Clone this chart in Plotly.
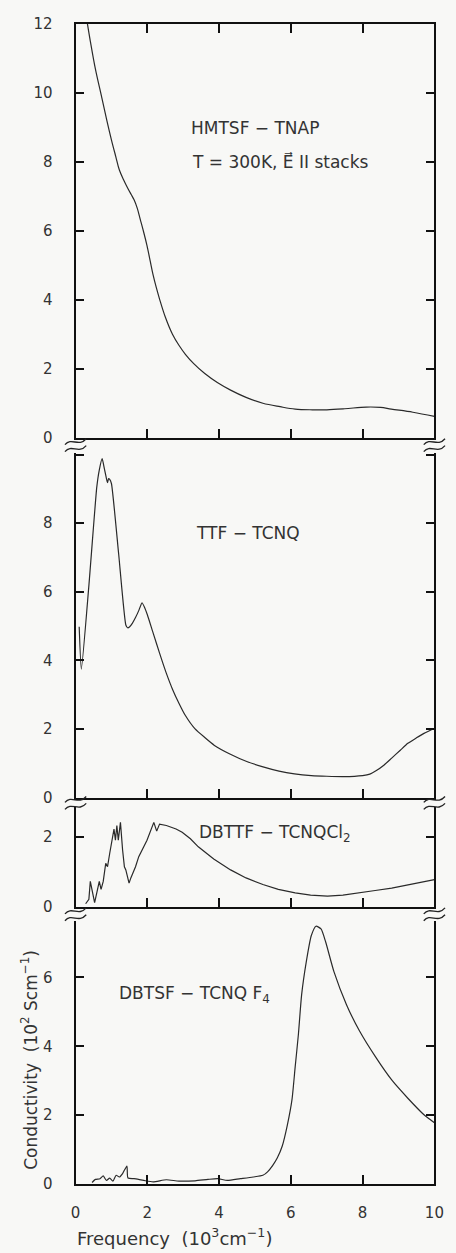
import plotly.graph_objects as go

W, H = 456, 1253

# ---------------- data ----------------
hm_x = [0.33, 0.41, 0.55, 0.73, 0.87, 1.0, 1.12, 1.22, 1.35, 1.45, 1.55, 1.63, 1.72, 1.8, 1.9, 1.99,
        2.08, 2.16, 2.25, 2.34, 2.5, 2.7, 2.88, 3.06, 3.3, 3.6, 3.95, 4.32, 4.75, 5.22, 5.7, 6.12,
        6.6, 7.0, 7.5, 8.1, 8.5, 8.8, 9.4, 10.0]
hm_y = [12.0, 11.5, 10.7, 9.86, 9.2, 8.63, 8.15, 7.76, 7.45, 7.24, 7.05, 6.9, 6.65, 6.34, 5.95, 5.57,
        5.12, 4.72, 4.35, 4.02, 3.5, 3.0, 2.68, 2.42, 2.14, 1.86, 1.6, 1.38, 1.17, 1.0, 0.9, 0.83,
        0.81, 0.81, 0.84, 0.89, 0.88, 0.83, 0.74, 0.62]

ttf_x = [0.10, 0.16, 0.37, 0.59, 0.66, 0.74, 0.80, 0.86, 0.89, 0.92, 0.95, 1.00, 1.20, 1.40, 1.45,
         1.50, 1.58, 1.67, 1.76, 1.85, 1.92, 2.00, 2.16, 2.34, 2.52, 2.70, 2.88, 3.06, 3.33, 3.60,
         3.87, 4.30, 4.77, 5.20, 5.67, 6.10, 6.57, 7.00, 7.47, 8.00, 8.20, 8.36, 8.60, 8.81, 9.05,
         9.26, 9.50, 9.71, 10.0]
ttf_y = [4.98, 3.74, 6.18, 9.05, 9.55, 9.88, 9.60, 9.30, 9.18, 9.30, 9.28, 9.15, 7.10, 5.03, 4.95,
         4.97, 5.08, 5.25, 5.45, 5.68, 5.55, 5.33, 4.80, 4.21, 3.65, 3.16, 2.75, 2.39, 2.00, 1.75,
         1.52, 1.27, 1.05, 0.90, 0.77, 0.69, 0.64, 0.62, 0.61, 0.64, 0.68, 0.77, 0.95, 1.15, 1.38,
         1.58, 1.74, 1.87, 2.02]

db_x = [0.28, 0.37, 0.41, 0.48, 0.53, 0.59, 0.66, 0.71, 0.77, 0.84, 0.89, 0.95, 1.02, 1.07, 1.11,
        1.15, 1.19, 1.25, 1.31, 1.36, 1.40, 1.45, 1.49, 1.54, 1.67, 1.76, 1.99, 2.18, 2.26, 2.34,
        2.53, 2.80, 2.97, 3.20, 3.42, 3.85, 4.32, 4.75, 5.22, 5.65, 6.12, 6.55, 7.02, 7.45, 7.92,
        8.35, 8.81, 9.40, 10.0]
db_y = [0.09, 0.22, 0.73, 0.36, 0.12, 0.40, 0.73, 0.50, 0.73, 1.25, 1.15, 1.53, 2.00, 2.23, 1.91,
        2.33, 1.91, 2.42, 1.63, 1.15, 1.06, 0.87, 0.68, 0.83, 1.15, 1.44, 1.91, 2.42, 2.17, 2.37,
        2.33, 2.23, 2.14, 1.95, 1.72, 1.37, 1.06, 0.83, 0.64, 0.50, 0.40, 0.34, 0.31, 0.34, 0.40,
        0.47, 0.54, 0.65, 0.78]

sf_x = [0.46, 0.55, 0.68, 0.77, 0.86, 0.95, 1.04, 1.13, 1.22, 1.31, 1.43, 1.46, 1.63, 1.90, 2.16,
        2.53, 2.88, 3.33, 3.69, 3.96, 4.23, 4.59, 4.95, 5.22, 5.35, 5.49, 5.62, 5.76, 5.90, 6.03,
        6.12, 6.21, 6.30, 6.43, 6.57, 6.70, 6.84, 6.97, 7.20, 7.55, 7.91, 8.36, 8.81, 9.26, 9.71,
        10.0]
sf_y = [0.04, 0.13, 0.15, 0.23, 0.10, 0.17, 0.08, 0.25, 0.20, 0.30, 0.52, 0.17, 0.15, 0.10, 0.06,
        0.12, 0.08, 0.09, 0.13, 0.15, 0.10, 0.15, 0.20, 0.25, 0.35, 0.53, 0.75, 1.10, 1.70, 2.44,
        3.40, 4.35, 5.50, 6.46, 7.22, 7.49, 7.41, 7.03, 6.17, 5.21, 4.45, 3.69, 3.02, 2.49, 2.01,
        1.78]

x_ticks = [0, 2, 4, 6, 8, 10]
x_tick_text = ["0", "2", "4", "6", "8", "10"]

labels = ["HMTSF − TNAP", "TTF − TCNQ", "DBTTF − TCNQCl<sub>2</sub>", "DBTSF − TCNQ F<sub>4</sub>"]
sub_label = "T = 300K, E\u20D7 II stacks"

# ---------------- layout helpers ----------------
def px(x):
    return x / W

def py(y):
    return 1 - y / H

x_dom = [px(73), px(444)]
panels = [  # (top px, bottom px, y-range max, ticks, ticktext)
    (15, 435, 12.0, [0, 2, 4, 6, 8, 10, 12], ["0", "2", "4", "6", "8", "10", "12"]),
    (450, 800, 10.06, [0, 2, 4, 6, 8, 10], ["0", "2", "4", "6", "8", " "]),
    (810, 911, 2.85, [0, 2], ["0", "2"]),
    (925, 1192, 7.65, [0, 2, 4, 6], ["0", "2", "4", "6"]),
]
series = [(hm_x, hm_y), (ttf_x, ttf_y), (db_x, db_y), (sf_x, sf_y)]
smooth = [1.0, 0.5, 0.0, 0.6]

INK = "#2a2a2a"
FONT = "DejaVu Sans"

fig = go.Figure()
layout = dict(
    width=W, height=H, margin=dict(l=0, r=0, t=0, b=0),
    paper_bgcolor="#f8f8f6", plot_bgcolor="#f8f8f6",
    showlegend=False, font=dict(family=FONT, color="#333", size=15),
)

for i, ((top, bot, ymax, yt, ytt), (sx, sy)) in enumerate(zip(panels, series)):
    n = "" if i == 0 else str(i + 1)
    line = dict(color=INK, width=1.2)
    if smooth[i] > 0:
        line.update(shape="spline", smoothing=smooth[i])
    fig.add_trace(go.Scatter(x=sx, y=sy, mode="lines", xaxis="x" + n, yaxis="y" + n,
                             line=line, hoverinfo="skip"))
    last = i == 3
    layout["xaxis" + n] = dict(
        domain=x_dom, anchor="y" + n, range=[0, 10], showgrid=False, zeroline=False,
        showline=True, linecolor="#111", linewidth=2, mirror="ticks" if i == 0 else False,
        ticks="inside", ticklen=9, tickwidth=1.5, tickcolor="#111",
        tickvals=x_ticks, ticktext=x_tick_text, showticklabels=last,
        ticklabelstandoff=14, tickfont=dict(size=15, color="#333"),
    )
    if i > 0:
        layout["xaxis" + n]["matches"] = "x"
    layout["yaxis" + n] = dict(
        domain=[py(bot), py(top)], anchor="x" + n, range=[0, ymax], showgrid=False,
        zeroline=False, showline=True, linecolor="#111", linewidth=2, mirror="ticks",
        ticks="inside", ticklen=8, tickwidth=1.5, tickcolor="#111",
        tickvals=yt, ticktext=ytt, ticklabelstandoff=18, tickfont=dict(size=15, color="#333"),
    )

fig.update_layout(**layout)

# panel labels
ann = [
    dict(x=3.15, y=8.97, xref="x", yref="y", text=labels[0]),
    dict(x=3.2, y=8.0, xref="x", yref="y", text=sub_label),
    dict(x=3.29, y=7.7, xref="x2", yref="y2", text=labels[1]),
    dict(x=3.37, y=2.1, xref="x3", yref="y3", text=labels[2]),
    dict(x=1.16, y=5.5, xref="x4", yref="y4", text=labels[3]),
]
for a in ann:
    fig.add_annotation(**a, xanchor="left", yanchor="middle", showarrow=False,
                       font=dict(family=FONT, size=17, color="#333"))

# axis titles
fig.add_annotation(x=px(72), y=py(1246), xref="paper", yref="paper", xanchor="left",
                   yanchor="middle", showarrow=False,
                   text="Frequency  (10<sup>3</sup>cm<sup>−1</sup>)",
                   font=dict(family=FONT, size=18, color="#333"))
fig.add_annotation(x=px(25), y=py(1066), xref="paper", yref="paper", xanchor="center",
                   yanchor="middle", showarrow=False, textangle=-90,
                   text="Conductivity  (10<sup>2</sup> Scm<sup>−1</sup>)",
                   font=dict(family=FONT, size=17, color="#333"))

# axis-break marks
def squiggle(xc, yc):
    p = [(xc - 11, yc + 3), (xc - 4, yc - 5), (xc + 3, yc + 6), (xc + 11, yc - 3)]
    q = [(px(a), py(b)) for a, b in p]
    return "M {},{} C {},{} {},{} {},{}".format(*[v for pt in q for v in pt])

for yc in (439, 446, 802, 809, 915, 922):
    for xc in (73, 444):
        fig.add_shape(type="path", path=squiggle(xc, yc), xref="paper", yref="paper",
                      line=dict(color="#222", width=1.3))

fig.write_html("out.html")
